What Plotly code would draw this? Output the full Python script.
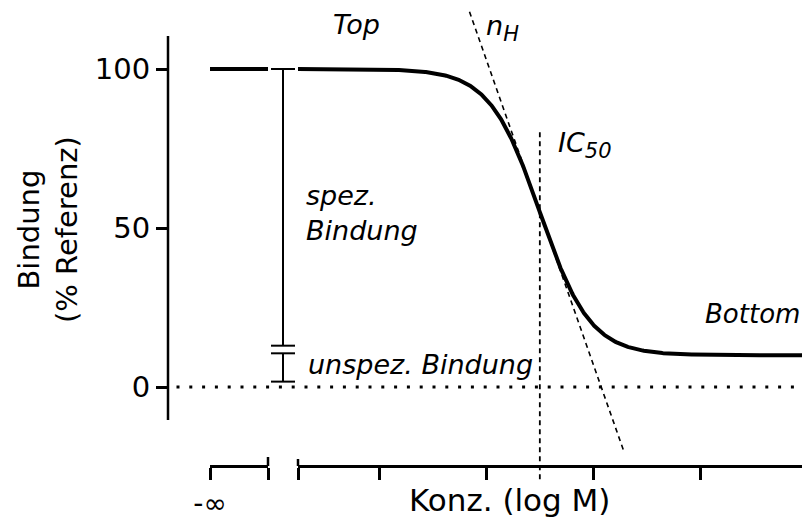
import numpy as np
import plotly.graph_objects as go

# ---- model parameters: competition binding curve (4-parameter logistic) ----
TOP = 100.0          # % binding without competitor
BOTTOM = 10.0        # unspecific binding plateau
LOG_IC50 = -7.5      # log M
HILL = 1.85          # Hill slope n_H

# ---- axes ----
Y_TICKS = [0, 50, 100]
Y_TICK_LABELS = ["0", "50", "100"]
X_TICKS = [-9, -8, -7, -6]          # log M (unlabelled)
X_RANGE = [-9.76, -5.05]            # main concentration axis
Y_RANGE = [-41.5, 121.7]
Y_AXIS_SPAN = [-10.4, 110.4]        # drawn extent of the y axis line

# ---- annotation helpers (values in % binding) ----
SPEC_SPAN = [13.0, 100.0]           # bracket "spez. Bindung"
NONSPEC_SPAN = [1.7, 10.6]          # bracket "unspez. Bindung"
IC50_LINE_SPAN = [-29.0, 81.0]      # vertical IC50 marker
TANGENT_SPAN = [118.0, -20.0]       # extent of the Hill-slope tangent

W, H = 802, 519
FONT = "DejaVu Sans"


def px(x):
    return x / W


def py(y):
    return 1 - y / H


X_AXIS_POS = py(466)
Y_AXIS_POS = px(168)
DOM_INF = [px(210), px(268)]        # segment for concentration -inf
DOM_GAP = [px(268), px(298)]        # axis break
DOM_MAIN = [px(298), 1.0]

fig = go.Figure()

# plateau at concentration -inf
fig.add_trace(go.Scatter(x=[0, 1], y=[TOP, TOP], xaxis="x", yaxis="y",
                         mode="lines", line=dict(color="black", width=4),
                         hoverinfo="skip"))

# dose-response curve
xc = np.linspace(X_RANGE[0], X_RANGE[1], 600)
yc = BOTTOM + (TOP - BOTTOM) / (1 + 10 ** ((xc - LOG_IC50) * HILL))
fig.add_trace(go.Scatter(x=xc, y=yc, xaxis="x2", yaxis="y", mode="lines",
                         line=dict(color="black", width=4), hoverinfo="skip"))

# tangent at the inflection point (slope given by n_H)
slope = -(TOP - BOTTOM) * HILL * np.log(10) / 4
y_mid = (TOP + BOTTOM) / 2
xt = [LOG_IC50 + (yv - y_mid) / slope for yv in TANGENT_SPAN]
fig.add_trace(go.Scatter(x=xt, y=TANGENT_SPAN, xaxis="x2", yaxis="y",
                         mode="lines",
                         line=dict(color="black", width=1.6, dash="5px,4px"),
                         hoverinfo="skip"))

# IC50 marker
fig.add_trace(go.Scatter(x=[LOG_IC50, LOG_IC50], y=IC50_LINE_SPAN,
                         xaxis="x2", yaxis="y", mode="lines",
                         line=dict(color="black", width=1.8, dash="5px,4px"),
                         hoverinfo="skip"))

# brackets for specific / unspecific binding
CAP = 0.8
bx, by = [], []
for lo, hi in (SPEC_SPAN, NONSPEC_SPAN):
    bx += [-CAP, CAP, None, 0, 0, None, -CAP, CAP, None]
    by += [hi, hi, None, hi, lo, None, lo, lo, None]
fig.add_trace(go.Scatter(x=bx, y=by, xaxis="x3", yaxis="y", mode="lines",
                         line=dict(color="black", width=2), hoverinfo="skip"))

shapes = [
    # y axis line
    dict(type="line", xref="paper", yref="y", x0=Y_AXIS_POS, x1=Y_AXIS_POS,
         y0=Y_AXIS_SPAN[0], y1=Y_AXIS_SPAN[1],
         line=dict(color="black", width=2.5)),
    # zero line
    dict(type="line", xref="paper", yref="y", x0=px(176.5), x1=1.0,
         y0=0, y1=0, line=dict(color="black", width=3, dash="3px,9.8px")),
    # break marks at the axis gap
    dict(type="line", xref="paper", yref="paper", x0=DOM_INF[1], x1=DOM_INF[1],
         y0=X_AXIS_POS, y1=X_AXIS_POS + 9 / H,
         line=dict(color="black", width=2.5)),
    dict(type="line", xref="paper", yref="paper", x0=DOM_MAIN[0], x1=DOM_MAIN[0],
         y0=X_AXIS_POS, y1=X_AXIS_POS + 7 / H,
         line=dict(color="black", width=2.5)),
]

ann_font = dict(family=FONT, size=27, color="black")
SUB = "<sub><span style='font-size:21px'>{}</span></sub>"
annotations = [
    dict(text="<i>Top</i>", x=px(331), y=py(25), xanchor="left", yanchor="middle"),
    dict(text="<i>n</i>" + SUB.format("<i>H</i>"), x=px(484), y=py(28),
         xanchor="left", yanchor="middle"),
    dict(text="<i>IC</i>" + SUB.format("<i>50</i>"), x=px(556), y=py(145),
         xanchor="left", yanchor="middle"),
    dict(text="<i>spez.<br>Bindung</i>", x=px(304), y=py(213), xanchor="left",
         yanchor="middle", align="left"),
    dict(text="<i>unspez. Bindung</i>", x=px(306), y=py(364), xanchor="left",
         yanchor="middle"),
    dict(text="<i>Bottom</i>", x=px(703), y=py(314), xanchor="left", yanchor="middle",
         font=dict(family=FONT, size=26, color="black")),
]
for a in annotations:
    a.update(xref="paper", yref="paper", showarrow=False)
    a.setdefault("font", ann_font)

annotations += [
    dict(text="Bindung<br>(% Referenz)", x=px(48), y=py(230), xref="paper", yref="paper",
         textangle=-90, showarrow=False, xanchor="center", yanchor="middle",
         font=dict(family=FONT, size=29, color="black")),
    dict(text="Konz. (log M)", x=px(509), y=py(500), xref="paper", yref="paper",
         showarrow=False, xanchor="center", yanchor="middle",
         font=dict(family=FONT, size=31, color="black")),
]

axis_common = dict(showgrid=False, zeroline=False, fixedrange=True, automargin=False,
                   showline=True, linecolor="black", linewidth=2.5,
                   ticks="outside", ticklen=12, tickwidth=2.5, tickcolor="black")

fig.update_layout(
    template="none",
    width=W, height=H,
    margin=dict(l=0, r=0, t=0, b=0, pad=0, autoexpand=False),
    paper_bgcolor="white", plot_bgcolor="white",
    showlegend=False,
    shapes=shapes,
    annotations=annotations,
    xaxis=dict(domain=DOM_INF, range=[0, 1], anchor="free", position=X_AXIS_POS,
               tickmode="array", tickvals=[0, 1], ticktext=["-∞", ""],
               tickfont=dict(family=FONT, size=28, color="black"), **axis_common),
    xaxis2=dict(domain=DOM_MAIN, range=X_RANGE, anchor="free", position=X_AXIS_POS,
                tickmode="array", tickvals=[X_RANGE[0]] + X_TICKS,
                showticklabels=False, **axis_common),
    xaxis3=dict(domain=DOM_GAP, range=[-1, 1], anchor="free", position=X_AXIS_POS,
                visible=False, fixedrange=True, automargin=False),
    yaxis=dict(domain=[0, 1], range=Y_RANGE, anchor="free", position=Y_AXIS_POS,
               showgrid=False, zeroline=False, fixedrange=True, showline=False,
               automargin=False,
               ticks="outside", ticklen=12, tickwidth=2.5, tickcolor="black",
               tickmode="array", tickvals=Y_TICKS, ticktext=Y_TICK_LABELS,
               tickfont=dict(family=FONT, size=29, color="black")),
)

fig.write_html("out.html", config={"displayModeBar": False})
